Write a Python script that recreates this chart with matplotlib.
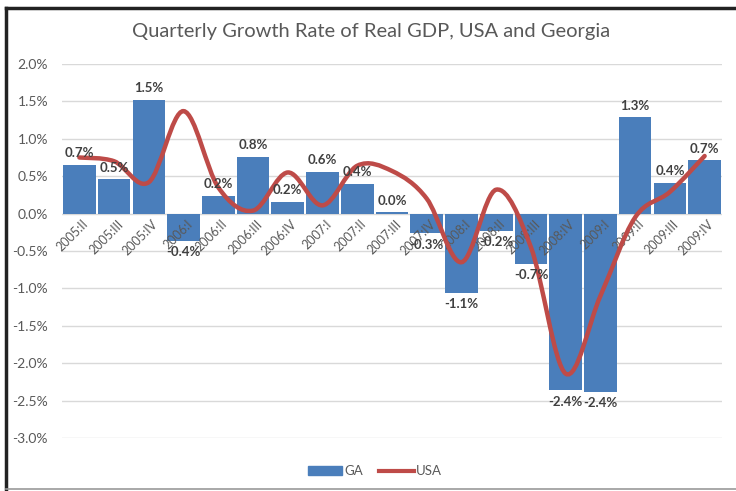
import numpy as np
import matplotlib
matplotlib.use("Agg")
from matplotlib import pyplot as plt
from matplotlib.path import Path
from matplotlib.patches import PathPatch, Patch
from matplotlib.lines import Line2D

quarters = ['2005:II', '2005:III', '2005:IV',
            '2006:I', '2006:II', '2006:III', '2006:IV',
            '2007:I', '2007:II', '2007:III', '2007:IV',
            '2008:I', '2008:II', '2008:III', '2008:IV',
            '2009:I', '2009:II', '2009:III', '2009:IV']
ga = [0.65, 0.46, 1.52, -0.36, 0.24, 0.76, 0.16, 0.56, 0.40, 0.02, -0.26,
      -1.06, -0.23, -0.67, -2.36, -2.38, 1.29, 0.41, 0.71]
usa = [0.75, 0.70, 0.42, 1.37, 0.35, 0.04, 0.55, 0.11, 0.64, 0.57, 0.20,
       -0.65, 0.32, -0.45, -2.14, -1.10, -0.05, 0.29, 0.77]
ga_labels = ['0.7%', '0.5%', '1.5%', '-0.4%', '0.2%', '0.8%', '0.2%', '0.6%', '0.4%',
             '0.0%', '-0.3%', '-1.1%', '-0.2%', '-0.7%', '-2.4%', '-2.4%', '1.3%',
             '0.4%', '0.7%']
yticks = [2.0, 1.5, 1.0, 0.5, 0.0, -0.5, -1.0, -1.5, -2.0, -2.5, -3.0]

plt.rcParams['font.family'] = ['Lato', 'DejaVu Sans']
bar_color = '#4a7ebb'
line_color = '#be4b48'
text_color = '#595959'

fig = plt.figure(figsize=(7.36, 4.91), dpi=100)
ax = fig.add_axes([62 / 736, 53 / 491, 660 / 736, 374 / 491])

x = np.arange(len(quarters))
ax.bar(x, ga, width=0.94, color=bar_color, zorder=2)

# smooth line like excel: bezier segments between the points
pts = np.column_stack([x, usa]).astype(float)
verts = [tuple(pts[0])]
codes = [Path.MOVETO]
n = len(pts)
for i in range(n - 1):
    p0 = pts[max(i - 1, 0)]
    p1 = pts[i]
    p2 = pts[i + 1]
    p3 = pts[min(i + 2, n - 1)]
    c1 = p1 + (p2 - p0) / 6
    c2 = p2 - (p3 - p1) / 6
    verts += [tuple(c1), tuple(c2), tuple(p2)]
    codes += [Path.CURVE4, Path.CURVE4, Path.CURVE4]
ax.add_patch(PathPatch(Path(verts, codes), fill=False, edgecolor=line_color,
                       linewidth=3.2, capstyle='round', zorder=4))

# data labels
for xi, v, lab in zip(x, ga, ga_labels):
    if v >= 0:
        ax.annotate(lab, (xi, v), xytext=(0, 4), textcoords='offset points',
                    ha='center', va='bottom', fontsize=9.5, fontweight='bold',
                    color='#404040', zorder=5)
    else:
        ax.annotate(lab, (xi, v), xytext=(0, -4), textcoords='offset points',
                    ha='center', va='top', fontsize=9.5, fontweight='bold',
                    color='#404040', zorder=5)

# category labels sit at the zero line, drawn over the bars
for xi, q in zip(x, quarters):
    ax.annotate(q, (xi, 0), xytext=(2, -3), textcoords='offset points',
                ha='right', va='top', rotation=45, rotation_mode='anchor',
                fontsize=9, color=text_color, zorder=3)

ax.set_xlim(-0.5, len(quarters) - 0.5)
ax.set_ylim(-3.0, 2.0)
ax.set_xticks([])
ax.set_yticks(yticks)
ax.set_yticklabels(['{:.1f}%'.format(t) for t in yticks])
ax.tick_params(axis='y', length=0, pad=10, labelsize=10, labelcolor=text_color)
ax.grid(axis='y', color='#d9d9d9', linewidth=1, zorder=0)
ax.set_axisbelow(True)
for s in ax.spines.values():
    s.set_visible(False)

fig.text(371 / 736, 1 - 32 / 491, 'Quarterly Growth Rate of Real GDP, USA and Georgia',
         ha='center', va='center', fontsize=14.5, color=text_color)

handles = [Patch(color=bar_color, label='GA'),
           Line2D([0], [0], color=line_color, linewidth=3, label='USA')]
fig.legend(handles=handles, loc='center', bbox_to_anchor=(375 / 736, 1 - 471 / 491),
           ncol=2, frameon=False, fontsize=9.5, labelcolor=text_color,
           handlelength=2.6, handleheight=0.6, columnspacing=1.2, handletextpad=0.2)

# frame round the picture
fig.add_artist(Line2D([6 / 736, 6 / 736], [1 - 8 / 491, 1 - 489 / 491], color='#222222',
                      linewidth=2.5, transform=fig.transFigure))
fig.add_artist(Line2D([6 / 736, 1.0], [1 - 8 / 491, 1 - 8 / 491], color='#222222',
                      linewidth=2.5, transform=fig.transFigure))
fig.add_artist(Line2D([6 / 736, 1.0], [1 - 489 / 491, 1 - 489 / 491], color='#999999',
                      linewidth=1.2, transform=fig.transFigure))

fig.savefig('out.png', dpi=100)
